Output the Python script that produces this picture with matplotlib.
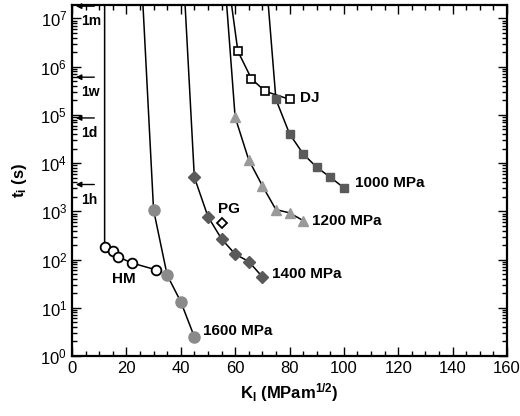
import matplotlib
matplotlib.use("Agg")
import matplotlib.pyplot as plt
from matplotlib.ticker import LogLocator, LogFormatterMathtext, MultipleLocator, NullFormatter

plt.rcParams['font.family'] = ['Liberation Sans', 'DejaVu Sans']
plt.rcParams['mathtext.fontset'] = 'custom'
plt.rcParams['mathtext.rm'] = 'Liberation Sans'
plt.rcParams['mathtext.it'] = 'Liberation Sans:italic'
plt.rcParams['mathtext.bf'] = 'Liberation Sans:bold'

# ---- data ----
t_top = 1.9e7

hm_k = [12, 15, 17, 22, 31]
hm_t = [185, 147, 114, 85, 61]
hm_k_top = 12.0

s1600_k = [30, 35, 40, 45]
s1600_t = [1070, 47.6, 13.4, 2.5]
s1600_k_top = 26.1

s1400_k = [45, 50, 55, 60, 65, 70]
s1400_t = [5100, 780, 268, 130, 91, 44]
s1400_k_top = 41.6

s1200_k = [60, 65, 70, 75, 80, 85]
s1200_t = [9.0e4, 1.17e4, 3400, 1085, 930, 644]
s1200_k_top = 56.9

s1000_k = [75, 80, 85, 90, 95, 100]
s1000_t = [2.1e5, 4.06e4, 1.56e4, 8200, 5100, 3070]
s1000_k_top = 72.2

dj_k = [61, 66, 71, 80]
dj_t = [2.1e6, 5.6e5, 3.1e5, 2.1e5]
dj_k_top = 58.7

pg_k = [55]
pg_t = [575]

time_marks = ['1m', '1w', '1d', '1h']
time_vals = [1.8e7, 6.05e5, 8.64e4, 3600]

fig = plt.figure(figsize=(5.2, 4.16), dpi=100)
ax = fig.add_axes([72/520, 1-356/416, (507-72)/520, (356-5)/416])

lw = 1.1
def curve(k, t, ktop, marker, mfc, mec, ms, mew=1.0):
    ax.plot([ktop] + list(k), [t_top] + list(t), '-', color='black', lw=lw, zorder=2)
    ax.plot(k, t, linestyle='none', marker=marker, ms=ms, mfc=mfc, mec=mec,
            mew=mew, zorder=3)

curve(hm_k, hm_t, hm_k_top, 'o', 'white', 'black', 7.0, 1.3)
curve(s1600_k, s1600_t, s1600_k_top, 'o', '#8a8a8a', '#8a8a8a', 8.0)
curve(s1400_k, s1400_t, s1400_k_top, 'D', '#5a5a5a', '#5a5a5a', 6.0)
curve(s1200_k, s1200_t, s1200_k_top, '^', '#9a9a9a', '#9a9a9a', 7.0)
curve(s1000_k, s1000_t, s1000_k_top, 's', '#5a5a5a', '#5a5a5a', 6.0)
curve(dj_k, dj_t, dj_k_top, 's', 'white', 'black', 5.5, 1.2)
ax.plot(pg_k, pg_t, linestyle='none', marker='D', ms=5.5, mfc='white',
        mec='black', mew=1.3, zorder=3)

fs_lab = 11
ax.text(104.1, 3800, '1000 MPa', fontsize=fs_lab, fontweight='bold', va='center', ha='left')
ax.text(88.2, 640, '1200 MPa', fontsize=fs_lab, fontweight='bold', va='center', ha='left')
ax.text(73.4, 50, '1400 MPa', fontsize=fs_lab, fontweight='bold', va='center', ha='left')
ax.text(48.3, 3.3, '1600 MPa', fontsize=fs_lab, fontweight='bold', va='center', ha='left')
ax.text(14.6, 40, 'HM', fontsize=fs_lab, fontweight='bold', va='center', ha='left')
ax.text(53.7, 1120, 'PG', fontsize=fs_lab, fontweight='bold', va='center', ha='left')
ax.text(83.9, 2.2e5, 'DJ', fontsize=fs_lab, fontweight='bold', va='center', ha='left')

for lab, tv in zip(time_marks, time_vals):
    ax.annotate('', xy=(1.4, tv), xytext=(8.2, tv),
                arrowprops=dict(arrowstyle='-|>', color='black', lw=1.0,
                                mutation_scale=8, shrinkA=0, shrinkB=0))
    ax.annotate(lab, xy=(1.4, tv), xytext=(3.8, -11), textcoords='offset points',
                fontsize=10, fontweight='bold', va='center', ha='left')

ax.set_yscale('log')
ax.set_xlim(0, 160)
ax.set_ylim(1, t_top)
ax.xaxis.set_major_locator(MultipleLocator(20))
ax.xaxis.set_minor_locator(MultipleLocator(5))
ax.yaxis.set_major_locator(LogLocator(base=10, numticks=20))
ax.yaxis.set_minor_locator(LogLocator(base=10, subs=range(2, 10), numticks=50))
ax.yaxis.set_major_formatter(LogFormatterMathtext())
ax.yaxis.set_minor_formatter(NullFormatter())

ax.tick_params(which='both', direction='in', top=True, right=True, labelsize=12, width=1.0)
ax.tick_params(which='major', length=6.5)
ax.tick_params(which='minor', length=3.5)
for sp in ax.spines.values():
    sp.set_linewidth(1.6)

ax.set_xlabel(r'$\mathbf{K_I}$ (MPam$^{\mathbf{1/2}}$)', fontsize=12, fontweight='bold', labelpad=4)
ax.set_ylabel(r'$\mathbf{t_i}$ (s)', fontsize=12, fontweight='bold', labelpad=8)

fig.savefig('out.png', dpi=100)
